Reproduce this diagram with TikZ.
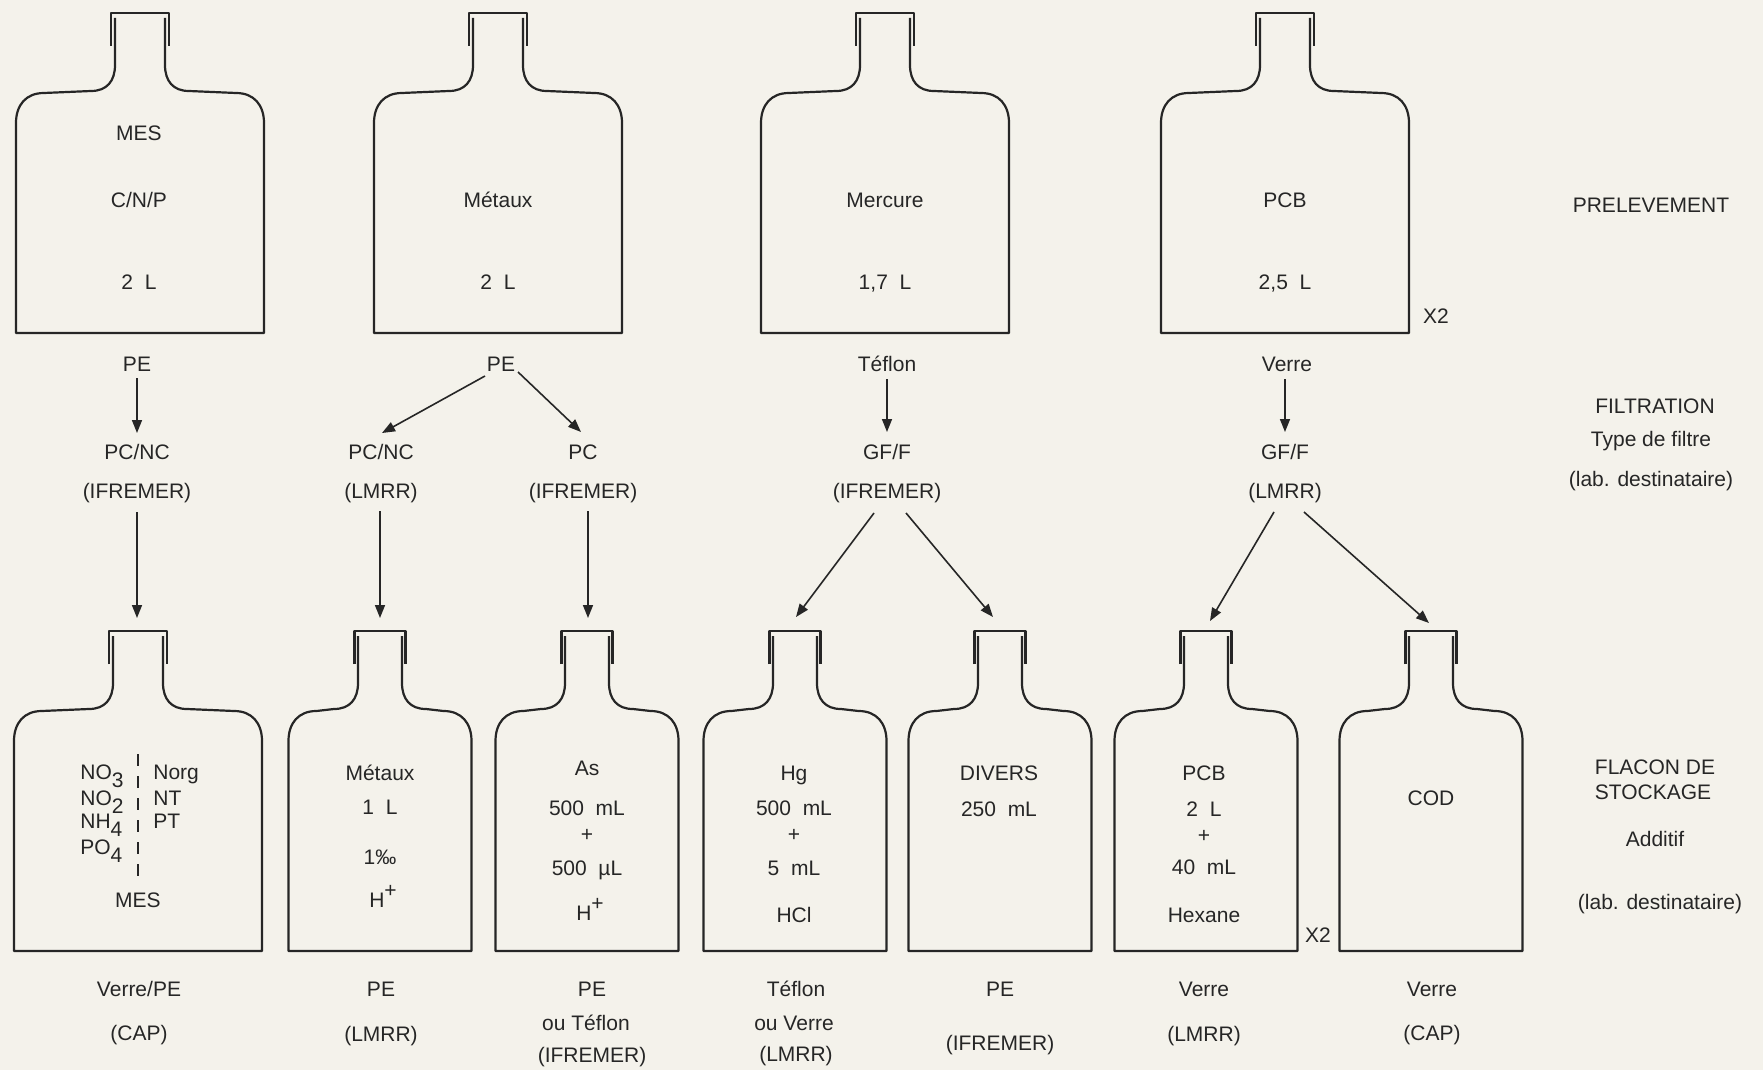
\documentclass[tikz,border=0pt]{standalone}
\usepackage{fontspec}
\setmainfont{Liberation Sans}
\usetikzlibrary{arrows.meta,calc}
\definecolor{paper}{RGB}{244,242,235}
\definecolor{ink}{RGB}{38,38,38}
\newcommand\sbx[1]{\raisebox{-4pt}{#1}}
\newcommand\spx[1]{\raisebox{5pt}{#1}}
% #1 name, #2 cx, #3 cap top y, #4 body half width, #5 neck half width, #6 cap half width
\newcommand\drawbottle[6]{%
  \coordinate (#1) at (#2,#3);
  \draw[bottleline] (#2-#6,#3+33) -- (#2-#6,#3) -- (#2+#6,#3) -- (#2+#6,#3+33);
  \draw[bottleline] (#2-#5,#3+5) -- (#2-#5,#3+52)
    .. controls (#2-#5,#3+68) and (#2-#5-8,#3+78) .. (#2-#5-24,#3+78)
    -- (#2-#4+28,#3+80)
    .. controls (#2-#4+10,#3+80) and (#2-#4,#3+92) .. (#2-#4,#3+110)
    -- (#2-#4,#3+320) -- (#2+#4,#3+320) -- (#2+#4,#3+110)
    .. controls (#2+#4,#3+92) and (#2+#4-10,#3+80) .. (#2+#4-28,#3+80)
    -- (#2+#5+24,#3+78)
    .. controls (#2+#5+8,#3+78) and (#2+#5,#3+68) .. (#2+#5,#3+52)
    -- (#2+#5,#3+5);
}
\begin{document}
\begin{tikzpicture}[x=0.5pt,y=-0.5pt,
  bottleline/.style={draw=ink,line width=1.1pt,line join=round},
  arr/.style={draw=ink,line width=0.8pt,-{Triangle[length=6.5pt,width=5pt]}},
  lbl/.style={text=ink,font=\fontsize{10.5}{12.6}\selectfont,inner sep=1pt,text height=7.5pt,text depth=0pt}]
\fill[paper] (0,0) rectangle (1763,1070);
\useasboundingbox (0,0) rectangle (1763,1070);

% ---------- top bottles ----------
\drawbottle{t1}{140}{13}{124}{25}{29}
\drawbottle{t2}{498}{13}{124}{25}{29}
\drawbottle{t3}{885}{13}{124}{25}{29}
\drawbottle{t4}{1285}{13}{124}{25}{29}

\node[lbl] (t1a) at (139,133) {MES};
\node[lbl] (t1b) at (139,200) {C/N/P};
\node[lbl] (t1c) at (139,282) {2\ \ L};
\node[lbl] (t2a) at (498,200) {Métaux};
\node[lbl] (t2b) at (498,282) {2\ \ L};
\node[lbl] (t3a) at (885,200) {Mercure};
\node[lbl] (t3b) at (885,282) {1,7\ \ L};
\node[lbl] (t4a) at (1285,200) {PCB};
\node[lbl] (t4b) at (1285,282) {2,5\ \ L};
\node[lbl] (t4x) at (1436,316) {X2};

% right column labels
\node[lbl] (r1) at (1651,205) {PRELEVEMENT};
\node[lbl] (r2) at (1655,406) {FILTRATION};
\node[lbl] (r3) at (1651,439) {Type de filtre};
\node[lbl] (r4) at (1651,479) {(lab. destinataire)};
\node[lbl] (r5) at (1655,767) {FLACON DE};
\node[lbl] (r6) at (1653,792) {STOCKAGE};
\node[lbl] (r7) at (1655,839) {Additif};
\node[lbl] (r8) at (1660,902) {(lab. destinataire)};

% ---------- materials of sampling bottles ----------
\node[lbl] (m1) at (137,364) {PE};
\node[lbl] (m2) at (501,364) {PE};
\node[lbl] (m3) at (887,364) {Téflon};
\node[lbl] (m4) at (1287,364) {Verre};

% ---------- filters ----------
\node[lbl] (f1a) at (137,452) {PC/NC};
\node[lbl] (f1b) at (137,491) {(IFREMER)};
\node[lbl] (f2a) at (381,452) {PC/NC};
\node[lbl] (f2b) at (381,491) {(LMRR)};
\node[lbl] (f3a) at (583,452) {PC};
\node[lbl] (f3b) at (583,491) {(IFREMER)};
\node[lbl] (f4a) at (887,452) {GF/F};
\node[lbl] (f4b) at (887,491) {(IFREMER)};
\node[lbl] (f5a) at (1285,452) {GF/F};
\node[lbl] (f5b) at (1285,491) {(LMRR)};

% ---------- storage bottles ----------
\drawbottle{b1}{138}{631}{124}{25}{29}
\drawbottle{b2}{380}{631}{91.5}{22}{25.5}
\drawbottle{b3}{587}{631}{91.5}{22}{25.5}
\drawbottle{b4}{795}{631}{91.5}{22}{25.5}
\drawbottle{b5}{1000}{631}{91.5}{22}{25.5}
\drawbottle{b6}{1206}{631}{91.5}{22}{25.5}
\drawbottle{b7}{1431}{631}{91.5}{22}{25.5}

% bottle 1 contents
\node[lbl,anchor=west] (n1) at (78,772) {NO\sbx{3}};
\node[lbl,anchor=west] (n2) at (78,798) {NO\sbx{2}};
\node[lbl,anchor=west] (n3) at (78,821) {NH\sbx{4}};
\node[lbl,anchor=west] (n4) at (78,847) {PO\sbx{4}};
\node[lbl,anchor=west] (n5) at (151,772) {Norg};
\node[lbl,anchor=west] (n6) at (151,798) {NT};
\node[lbl,anchor=west] (n7) at (151,821) {PT};
\coordinate (d1) at (138,754);
\coordinate (d2) at (138,878);
\draw[ink,line width=0.9pt,dash pattern=on 6pt off 5pt] (d1) -- (d2);
\node[lbl] (n8) at (138,900) {MES};

% bottle 2
\node[lbl] (c2a) at (380,773) {Métaux};
\node[lbl] (c2b) at (380,807) {1\ \ L};
\node[lbl] (c2c) at (380,857) {1‰};
\node[lbl] (c2d) at (383,900) {H\spx{+}};
% bottle 3
\node[lbl] (c3a) at (587,768) {As};
\node[lbl] (c3b) at (587,808) {500\ \ mL};
\node[lbl] (c3c) at (587,834) {+};
\node[lbl] (c3d) at (587,868) {500\ \ µL};
\node[lbl] (c3e) at (590,913) {H\spx{+}};
% bottle 4
\node[lbl] (c4a) at (794,773) {Hg};
\node[lbl] (c4b) at (794,808) {500\ \ mL};
\node[lbl] (c4c) at (794,834) {+};
\node[lbl] (c4d) at (794,868) {5\ \ mL};
\node[lbl] (c4e) at (794,915) {HCl};
% bottle 5
\node[lbl] (c5a) at (999,773) {DIVERS};
\node[lbl] (c5b) at (999,809) {250\ \ mL};
% bottle 6
\node[lbl] (c6a) at (1204,773) {PCB};
\node[lbl] (c6b) at (1204,809) {2\ \ L};
\node[lbl] (c6c) at (1204,835) {+};
\node[lbl] (c6d) at (1204,867) {40\ \ mL};
\node[lbl] (c6e) at (1204,915) {Hexane};
\node[lbl] (c6x) at (1318,935) {X2};
% bottle 7
\node[lbl] (c7a) at (1431,798) {COD};

% ---------- bottom labels ----------
\node[lbl] (s1a) at (139,989) {Verre/PE};
\node[lbl] (s1b) at (139,1033) {(CAP)};
\node[lbl] (s2a) at (381,989) {PE};
\node[lbl] (s2b) at (381,1034) {(LMRR)};
\node[lbl] (s3a) at (592,989) {PE};
\node[lbl] (s3b) at (586,1023) {ou Téflon};
\node[lbl] (s3c) at (592,1055) {(IFREMER)};
\node[lbl] (s4a) at (796,989) {Téflon};
\node[lbl] (s4b) at (794,1023) {ou Verre};
\node[lbl] (s4c) at (796,1054) {(LMRR)};
\node[lbl] (s5a) at (1000,989) {PE};
\node[lbl] (s5b) at (1000,1043) {(IFREMER)};
\node[lbl] (s6a) at (1204,989) {Verre};
\node[lbl] (s6b) at (1204,1034) {(LMRR)};
\node[lbl] (s7a) at (1432,989) {Verre};
\node[lbl] (s7b) at (1432,1033) {(CAP)};

% ---------- arrows ----------
\draw[arr] ($(m1)+(0,14)$) -- ($(f1a)+(0,-19)$);
\draw[arr] ($(m2)+(-16,12)$) -- ($(f2a)+(1,-19)$);
\draw[arr] ($(m2)+(17,8)$) -- ($(f3a)+(-2,-20)$);
\draw[arr] ($(m3)+(0,15)$) -- ($(f4a)+(0,-20)$);
\draw[arr] ($(m4)+(-2,15)$) -- ($(f5a)+(0,-20)$);

\draw[arr] ($(f1b)+(0,21)$) -- ($(b1)+(-1,-13)$);
\draw[arr] ($(f2b)+(-1,20)$) -- ($(b2)+(0,-13)$);
\draw[arr] ($(f3b)+(5,20)$) -- ($(b3)+(1,-13)$);
\draw[arr] ($(f4b)+(-13,22)$) -- ($(b4)+(1,-14)$);
\draw[arr] ($(f4b)+(19,22)$) -- ($(b5)+(-7,-14)$);
\draw[arr] ($(f5b)+(-11,21)$) -- ($(b6)+(4,-10)$);
\draw[arr] ($(f5b)+(19,21)$) -- ($(b7)+(-2,-8)$);
\end{tikzpicture}
\end{document}
